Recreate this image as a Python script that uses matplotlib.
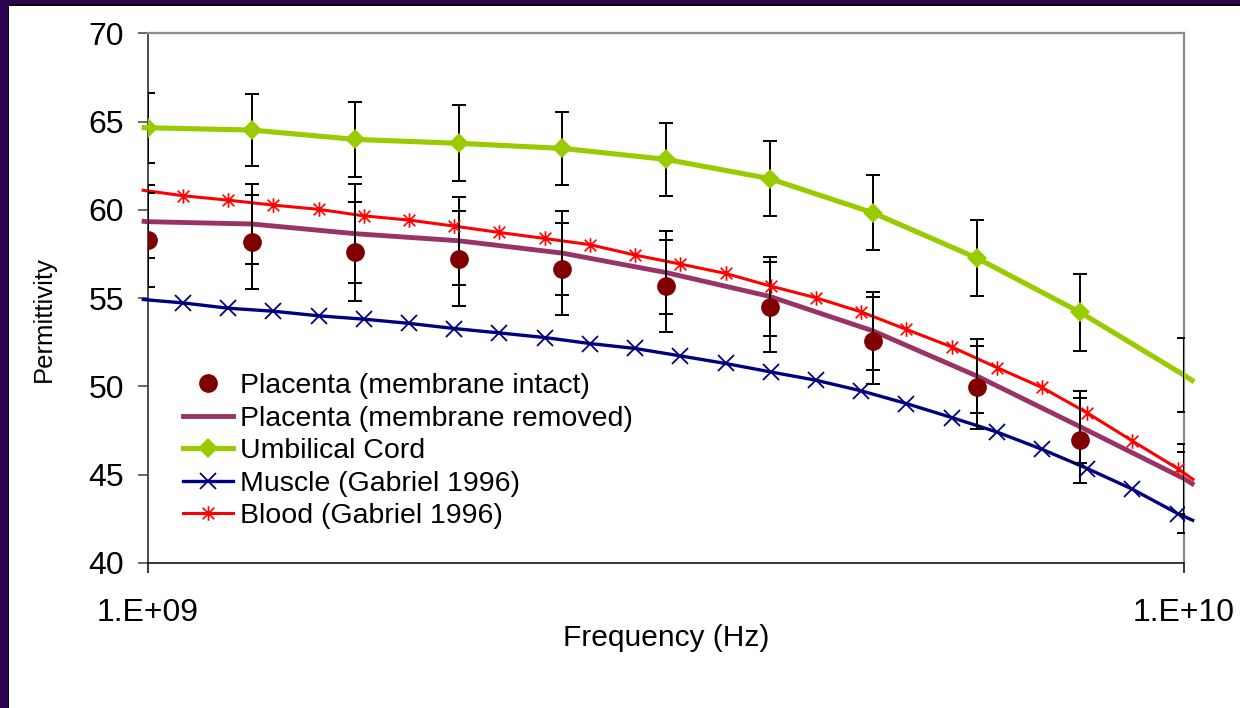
import matplotlib
matplotlib.use("Agg")
import matplotlib.pyplot as plt
from matplotlib.path import Path
from matplotlib.lines import Line2D
from matplotlib.patches import Rectangle
from matplotlib.ticker import NullLocator, FixedLocator, FixedFormatter

plt.rcParams['font.family'] = ['Liberation Sans', 'DejaVu Sans']

# ---------------- data ----------------
# placenta / umbilical measurement frequencies (Hz)
freq_meas = [1.000e9, 1.259e9, 1.585e9, 1.995e9, 2.512e9, 3.162e9,
             3.981e9, 5.012e9, 6.310e9, 7.943e9, 1.000e10]
intact = [58.31, 58.17, 57.63, 57.23, 56.63, 55.70, 54.51, 52.60, 49.94, 46.95, 44.00]
intact_err = [2.66, 2.66, 2.81, 2.70, 2.61, 2.61, 2.55, 2.48, 2.36, 2.41, 2.31]
removed = [59.33, 59.20, 58.65, 58.25, 57.55, 56.45, 55.10, 53.14, 50.59, 47.71, 44.78]
removed_err = [2.08, 2.26, 2.79, 2.48, 2.38, 2.36, 2.24, 2.21, 2.07, 2.02, 1.98]
umbilical = [64.65, 64.52, 63.99, 63.77, 63.48, 62.86, 61.77, 59.83, 57.27, 54.19, 50.64]
umbilical_err = [1.99, 2.03, 2.13, 2.16, 2.08, 2.08, 2.13, 2.13, 2.16, 2.17, 2.09]

# Gabriel 1996 model frequencies (GHz)
freq_gab_ghz = [1.081, 1.195, 1.321, 1.461, 1.616, 1.787, 1.975, 2.184, 2.415, 2.670,
                2.953, 3.265, 3.610, 3.992, 4.414, 4.880, 5.396, 5.966, 6.597, 7.294,
                8.065, 8.917, 9.860]
muscle = [54.73, 54.43, 54.26, 54.00, 53.81, 53.57, 53.28, 53.03, 52.77, 52.43,
          52.15, 51.73, 51.30, 50.82, 50.35, 49.75, 49.03, 48.24, 47.42, 46.44,
          45.35, 44.18, 42.80]
blood = [60.80, 60.55, 60.27, 60.03, 59.66, 59.42, 59.08, 58.72, 58.38, 58.03,
         57.44, 56.93, 56.40, 55.68, 55.02, 54.22, 53.23, 52.24, 51.07, 49.94,
         48.50, 46.91, 45.35]

# line ends just outside the plotted range (Hz) and values there
freq_ends = [0.986e9, 1.023e10]
removed_ends = [59.36, 44.42]
umbilical_ends = [64.66, 50.26]
muscle_ends = [54.93, 42.38]
blood_ends = [61.12, 44.69]

labels = ["Placenta (membrane intact)", "Placenta (membrane removed)",
          "Umbilical Cord", "Muscle (Gabriel 1996)", "Blood (Gabriel 1996)"]
xtick_vals = [1e9, 1e10]
xtick_labels = ["1.E+09", "1.E+10"]
ytick_vals = [40, 45, 50, 55, 60, 65, 70]

# ---------------- styles ----------------
c_intact = '#800000'
c_removed = '#993366'
c_umb = '#99CC00'
c_muscle = '#000080'
c_blood = '#FF0000'

star = Path([(-1, -1), (1, 1), (-1, 1), (1, -1), (0, -1.25), (0, 1.25)],
            [Path.MOVETO, Path.LINETO, Path.MOVETO, Path.LINETO, Path.MOVETO, Path.LINETO])

W, H = 1240, 708
fig = plt.figure(figsize=(W / 100, H / 100), dpi=100)
fig.patch.set_facecolor('white')

# purple slide frame (top and left)
purple = '#2D0050'
fig.add_artist(Rectangle((0, 1 - 5 / H), 1, 5 / H, transform=fig.transFigure,
                         facecolor=purple, edgecolor='none'))
fig.add_artist(Rectangle((0, 1 - 5.5 / H), 1, 1.2 / H, transform=fig.transFigure,
                         facecolor='black', edgecolor='none'))
fig.add_artist(Rectangle((0, 0), 8 / W, 1, transform=fig.transFigure,
                         facecolor=purple, edgecolor='none'))
fig.add_artist(Rectangle((8 / W, 0), 1.2 / W, 1 - 5 / H, transform=fig.transFigure,
                         facecolor='black', edgecolor='none'))

L, R, T, B = 148, 1184, 33.3, 563
ax = fig.add_axes([L / W, 1 - B / H, (R - L) / W, (B - T) / H])
ax.set_xscale('log')
ax.set_xlim(1e9, 1e10)
ax.set_ylim(40, 70)

freq_gab = [f * 1e9 for f in freq_gab_ghz]

def with_ends(xs, ys, xe, ye):
    return [xe[0]] + list(xs) + [xe[1]], [ye[0]] + list(ys) + [ye[1]]

# lines (extend slightly beyond plot area like the original)
x, y = with_ends(freq_gab, muscle, freq_ends, muscle_ends)
ax.plot(x, y, color=c_muscle, lw=2.4, clip_on=False, zorder=3, solid_capstyle='butt')
x, y = with_ends(freq_gab, blood, freq_ends, blood_ends)
ax.plot(x, y, color=c_blood, lw=2.2, clip_on=False, zorder=3, solid_capstyle='butt')
x, y = with_ends(freq_meas, removed, freq_ends, removed_ends)
ax.plot(x, y, color=c_removed, lw=3.5, clip_on=False, zorder=3, solid_capstyle='butt')
x, y = with_ends(freq_meas, umbilical, freq_ends, umbilical_ends)
ax.plot(x, y, color=c_umb, lw=3.7, clip_on=False, zorder=3, solid_capstyle='butt')

# error bars
eb_kw = dict(fmt='none', ecolor='black', elinewidth=1.4, capsize=5, capthick=1.4, zorder=4)
ax.errorbar(freq_meas, umbilical, yerr=umbilical_err, **eb_kw)
ax.errorbar(freq_meas, removed, yerr=removed_err, **eb_kw)
ax.errorbar(freq_meas, intact, yerr=intact_err, **eb_kw)

# markers (last measured point has no visible marker in the original)
ms_x, ms_star, ms_d, ms_o = 11, 10.5, 10.5, 13.5
ax.plot(freq_gab, muscle, ls='none', marker='x', ms=ms_x, mew=1.3, color=c_muscle, zorder=5)
ax.plot(freq_gab, blood, ls='none', marker=star, ms=ms_star, mew=1.2, color=c_blood, zorder=5)
ax.plot(freq_meas[:-1], umbilical[:-1], ls='none', marker='D', ms=ms_d, mew=0,
        color=c_umb, zorder=5)
ax.plot(freq_meas[:-1], intact[:-1], ls='none', marker='o', ms=ms_o, mew=0,
        color=c_intact, zorder=6)

# axes styling
for s in ['top', 'right']:
    ax.spines[s].set_color('#8C8C8C')
    ax.spines[s].set_linewidth(1.6)
ax.spines['left'].set_color('#404040')
ax.spines['left'].set_linewidth(1.3)
ax.spines['bottom'].set_color('black')
ax.spines['bottom'].set_linewidth(1.1)

ax.xaxis.set_major_locator(FixedLocator(xtick_vals))
ax.xaxis.set_major_formatter(FixedFormatter(xtick_labels))
ax.xaxis.set_minor_locator(NullLocator())
ax.set_yticks(ytick_vals)
ax.tick_params(axis='y', direction='out', length=7.2, width=1.1, color='#404040',
               labelsize=23, pad=10)
ax.tick_params(axis='x', direction='out', length=7.2, width=1.1, color='black',
               labelsize=23, pad=18)

ax.set_ylabel("Permittivity", fontsize=18.5)
ax.yaxis.set_label_coords(-0.089, 0.46)
ax.set_xlabel("Frequency (Hz)", fontsize=21.5)
ax.xaxis.set_label_coords(0.5, -0.115)

# legend
handles = [
    Line2D([], [], ls='none', marker='o', ms=ms_o, mew=0, color=c_intact),
    Line2D([], [], color=c_removed, lw=3.5),
    Line2D([], [], color=c_umb, lw=3.7, marker='D', ms=ms_d, mew=0),
    Line2D([], [], color=c_muscle, lw=2.4, marker='x', ms=ms_x, mew=1.3),
    Line2D([], [], color=c_blood, lw=2.2, marker=star, ms=ms_star, mew=1.2),
]
ax.legend(handles, labels, loc='upper left', bbox_to_anchor=(183 / W, 1 - 373 / H),
          bbox_transform=fig.transFigure, frameon=False, fontsize=20.5,
          handlelength=1.75, handletextpad=0.25, labelspacing=0.23, borderpad=0,
          borderaxespad=0)

fig.savefig("out.png", dpi=100, facecolor='white')
